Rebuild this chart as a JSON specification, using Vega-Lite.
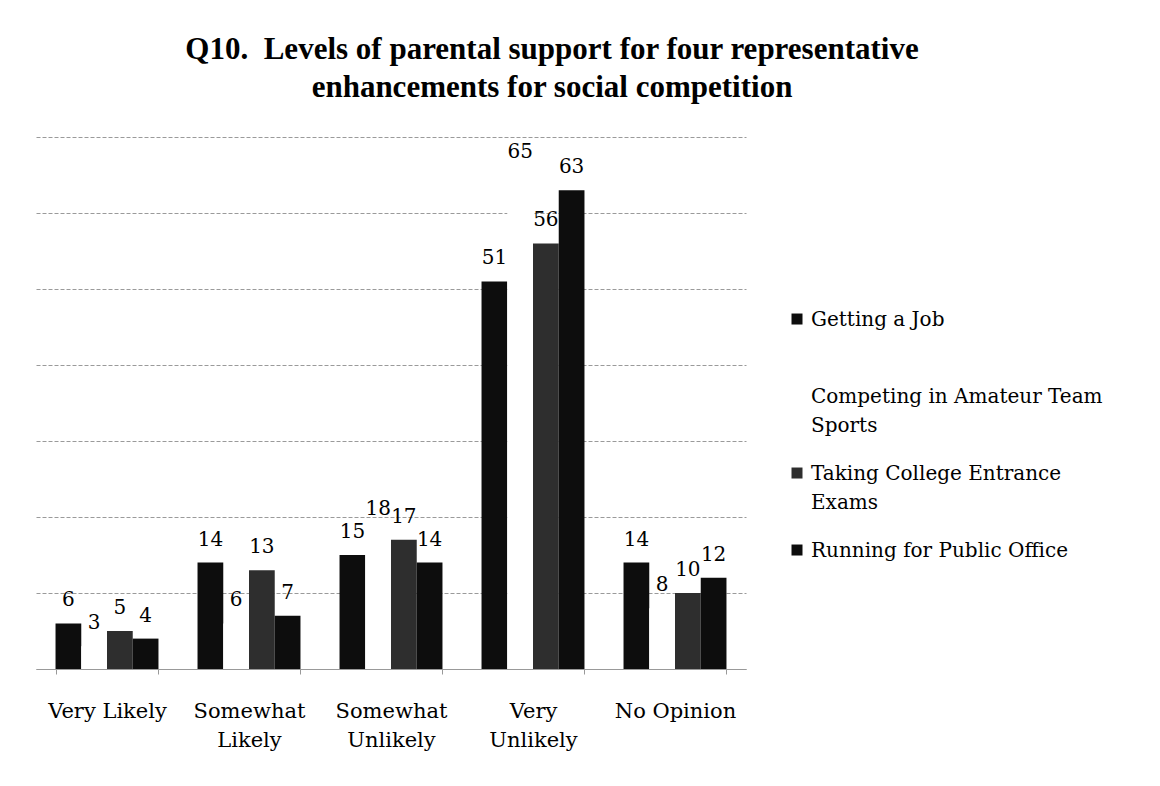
{
  "$schema": "https://vega.github.io/schema/vega-lite/v6.json",
  "width": 710,
  "height": 532,
  "autosize": "none",
  "padding": {"left": 36, "top": 137, "right": 414, "bottom": 117},
  "background": "white",
  "title": {
    "text": ["Q10.\u00a0 Levels of parental support for four representative", "enhancements for social competition"],
    "font": "Liberation Serif",
    "fontSize": 31,
    "fontWeight": "bold",
    "color": "#000000",
    "lineHeight": 38,
    "anchor": "middle",
    "frame": "group",
    "dx": 161,
    "offset": 33
  },
  "data": {
    "values": [
      {"response": "Very Likely", "series": "Getting a Job", "pct": 6},
      {"response": "Very Likely", "series": "Competing in Amateur Team Sports", "pct": 3},
      {"response": "Very Likely", "series": "Taking College Entrance Exams", "pct": 5},
      {"response": "Very Likely", "series": "Running for Public Office", "pct": 4},
      {"response": "Somewhat Likely", "series": "Getting a Job", "pct": 14},
      {"response": "Somewhat Likely", "series": "Competing in Amateur Team Sports", "pct": 6},
      {"response": "Somewhat Likely", "series": "Taking College Entrance Exams", "pct": 13},
      {"response": "Somewhat Likely", "series": "Running for Public Office", "pct": 7},
      {"response": "Somewhat Unlikely", "series": "Getting a Job", "pct": 15},
      {"response": "Somewhat Unlikely", "series": "Competing in Amateur Team Sports", "pct": 18},
      {"response": "Somewhat Unlikely", "series": "Taking College Entrance Exams", "pct": 17},
      {"response": "Somewhat Unlikely", "series": "Running for Public Office", "pct": 14},
      {"response": "Very Unlikely", "series": "Getting a Job", "pct": 51},
      {"response": "Very Unlikely", "series": "Competing in Amateur Team Sports", "pct": 65},
      {"response": "Very Unlikely", "series": "Taking College Entrance Exams", "pct": 56},
      {"response": "Very Unlikely", "series": "Running for Public Office", "pct": 63},
      {"response": "No Opinion", "series": "Getting a Job", "pct": 14},
      {"response": "No Opinion", "series": "Competing in Amateur Team Sports", "pct": 8},
      {"response": "No Opinion", "series": "Taking College Entrance Exams", "pct": 10},
      {"response": "No Opinion", "series": "Running for Public Office", "pct": 12}
    ]
  },
  "encoding": {
    "x": {
      "field": "response",
      "type": "nominal",
      "sort": ["Very Likely", "Somewhat Likely", "Somewhat Unlikely", "Very Unlikely", "No Opinion"],
      "scale": {"paddingInner": 0.275, "paddingOuter": 0.1375},
      "axis": {
        "title": null,
        "labelAngle": 0,
        "labelFont": "DejaVu Serif",
        "labelFontSize": 21,
        "labelColor": "#000000",
        "labelPadding": 26,
        "labelLineHeight": 29,
        "labelExpr": "datum.value == 'Somewhat Likely' ? ['Somewhat', 'Likely'] : datum.value == 'Somewhat Unlikely' ? ['Somewhat', 'Unlikely'] : datum.value == 'Very Unlikely' ? ['Very', 'Unlikely'] : datum.value",
        "tickBand": "extent",
        "tickSize": 5,
        "tickColor": "#999999",
        "domainColor": "#999999",
        "grid": false
      }
    },
    "xOffset": {
      "field": "series",
      "type": "nominal",
      "sort": ["Getting a Job", "Competing in Amateur Team Sports", "Taking College Entrance Exams", "Running for Public Office"],
      "scale": {"paddingInner": 0, "paddingOuter": 0}
    },
    "y": {
      "field": "pct",
      "type": "quantitative",
      "scale": {"domain": [0, 70], "nice": false},
      "axis": {
        "title": null,
        "labels": false,
        "ticks": false,
        "domain": false,
        "grid": true,
        "tickCount": 7,
        "gridColor": "#9a9a9a",
        "gridWidth": 1,
        "gridDash": [4, 2]
      }
    }
  },
  "layer": [
    {
      "mark": {"type": "bar"},
      "encoding": {
        "color": {
          "field": "series",
          "type": "nominal",
          "scale": {
            "domain": ["Getting a Job", "Competing in Amateur Team Sports", "Taking College Entrance Exams", "Running for Public Office"],
            "range": ["#0d0d0d", "#ffffff", "#2e2e2e", "#0d0d0d"]
          },
          "legend": {
            "orient": "none",
            "legendX": 751,
            "legendY": 179,
            "title": null,
            "labelFont": "DejaVu Serif",
            "labelFontSize": 20,
            "labelColor": "#000000",
            "labelLimit": 400,
            "labelOffset": 4,
            "labelBaseline": "alphabetic",
            "symbolType": "M-1,-2.27H1V-0.27H-1Z",
            "symbolSize": 121,
            "symbolStrokeWidth": 0,
            "gridAlign": "all",
            "rowPadding": 28,
            "labelExpr": "datum.label == 'Competing in Amateur Team Sports' ? ['Competing in Amateur Team', 'Sports'] : datum.label == 'Taking College Entrance Exams' ? ['Taking College Entrance', 'Exams'] : datum.label"
          }
        }
      }
    },
    {
      "mark": {
        "type": "text",
        "baseline": "alphabetic",
        "dy": -17,
        "font": "DejaVu Serif",
        "fontSize": 20,
        "color": "#000000"
      },
      "encoding": {"text": {"field": "pct", "type": "quantitative"}}
    }
  ],
  "config": {
    "view": {"stroke": null},
    "style": {"guide-label": {"lineHeight": 29}}
  }
}
